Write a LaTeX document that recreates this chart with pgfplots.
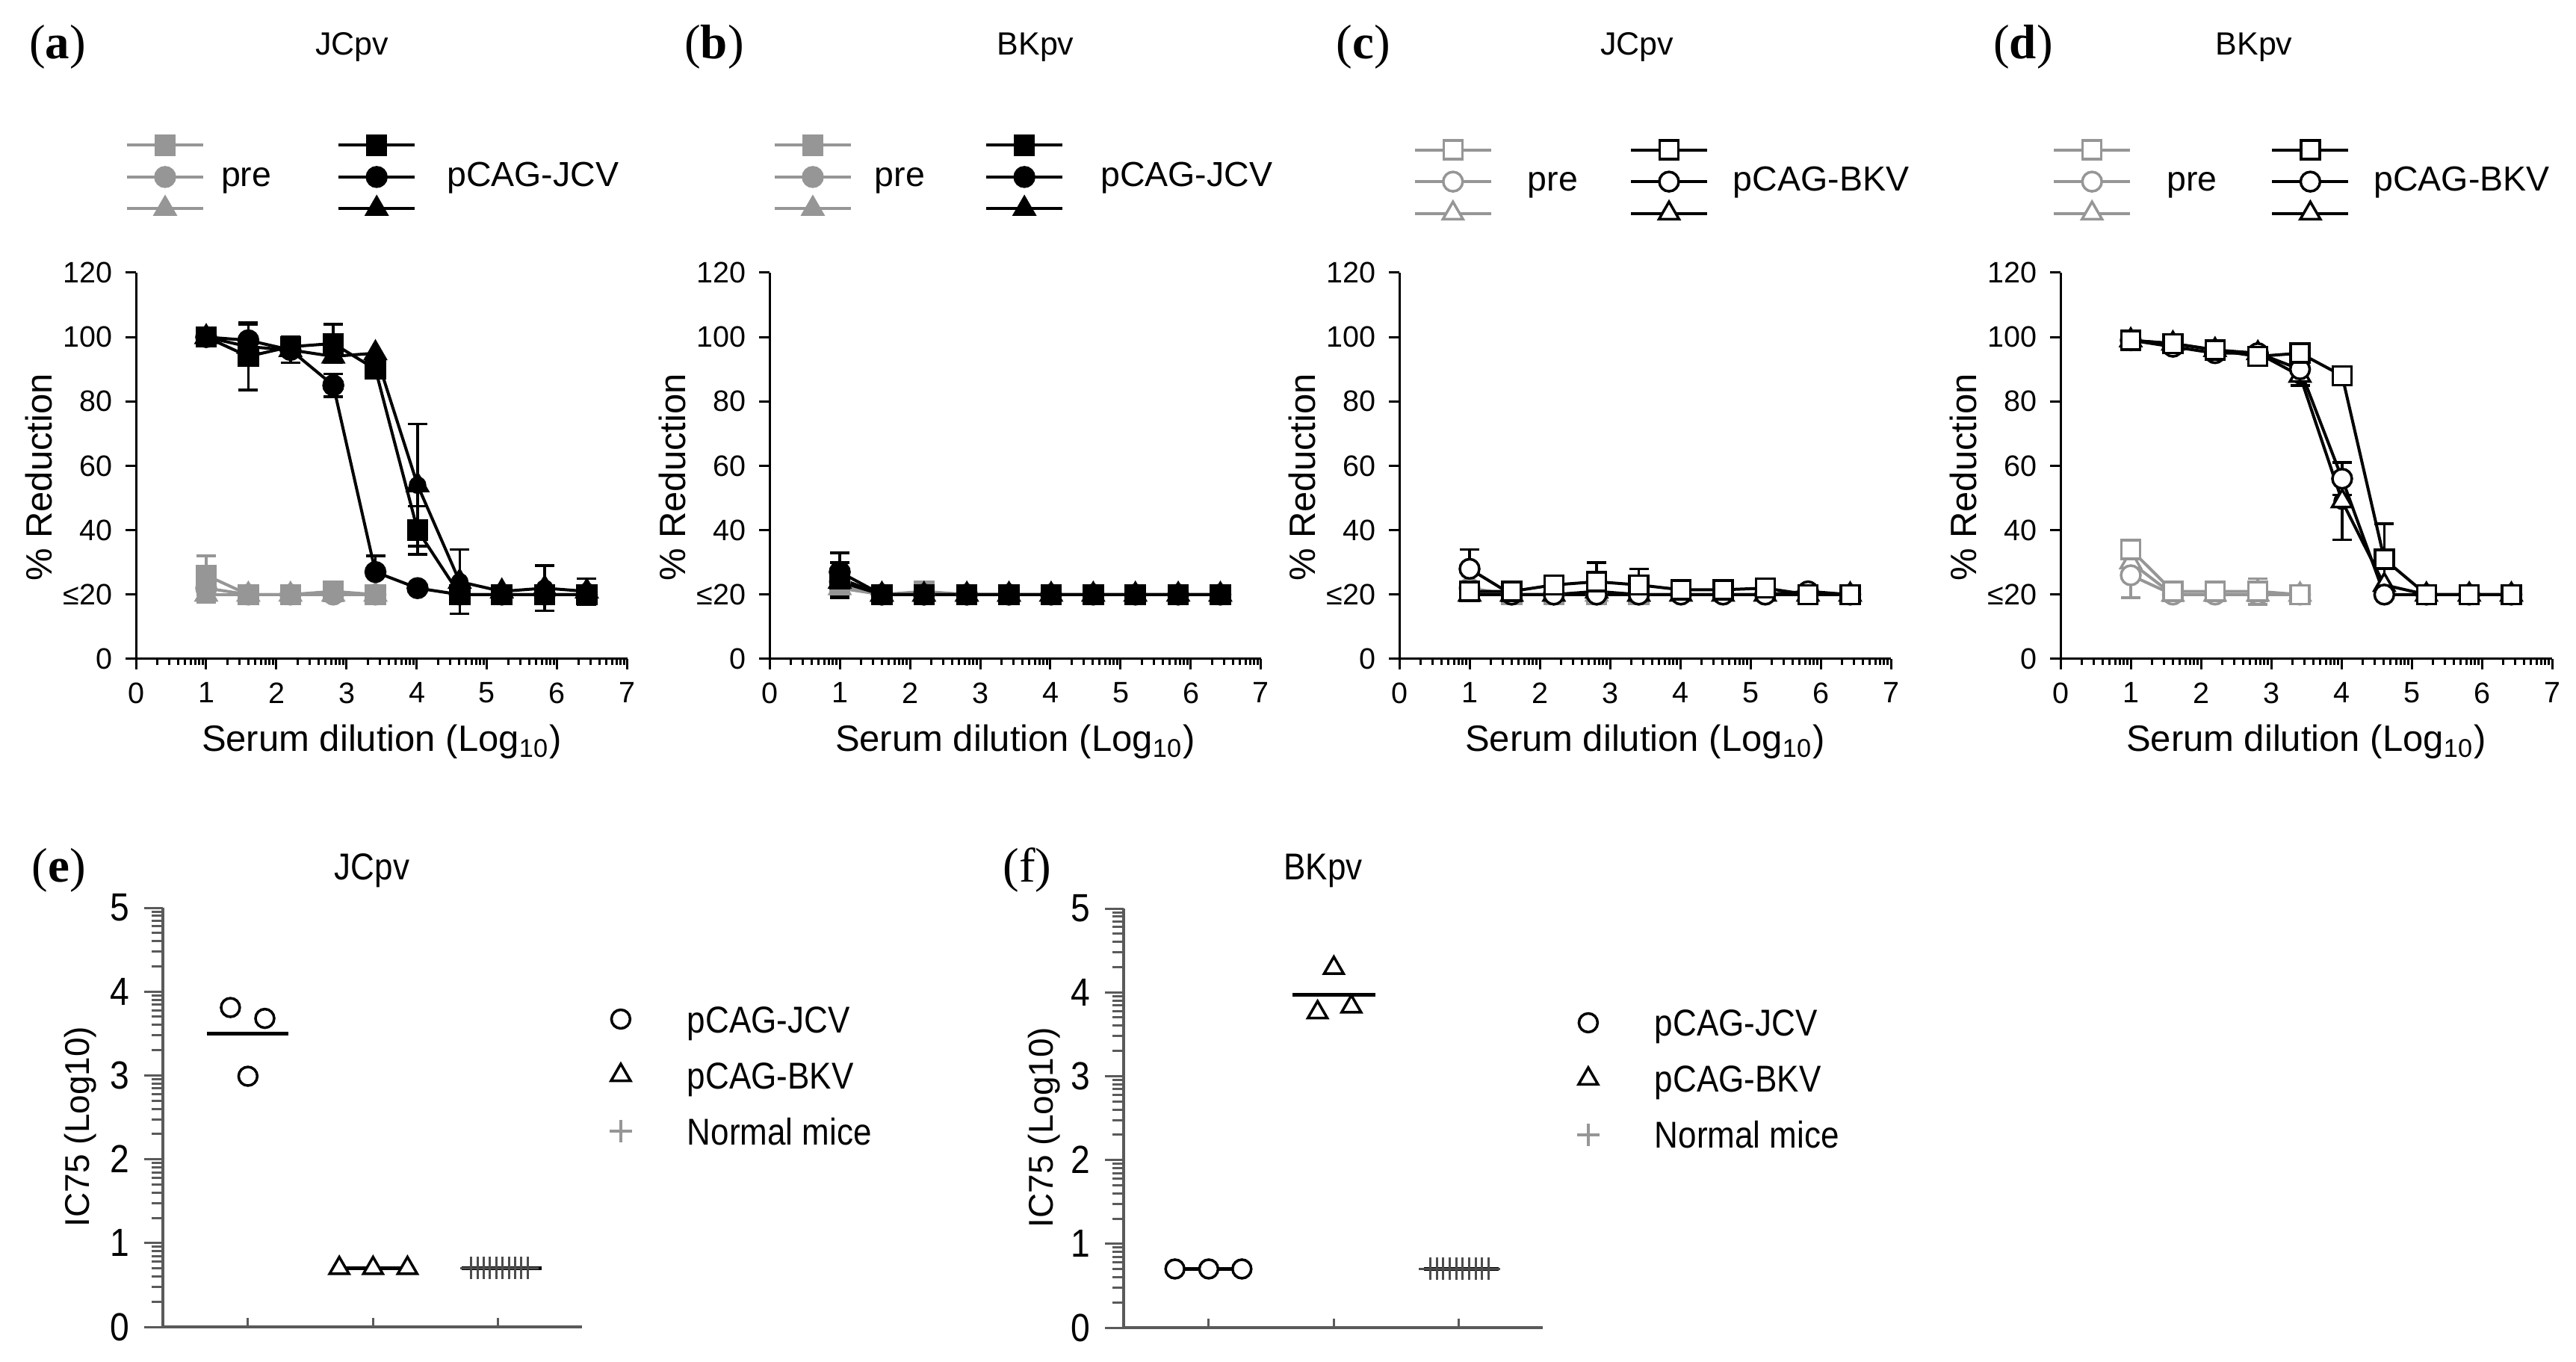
\documentclass[border=0pt]{standalone}
\usepackage{fontspec}
\setmainfont{Liberation Sans}
\newfontfamily\narrowfont[FakeStretch=0.88]{Liberation Sans}
\newfontfamily\seriffont{Liberation Serif}
\usepackage{pgfplots}
\pgfplotsset{compat=1.18}
\definecolor{lg}{RGB}{150,150,150}
\definecolor{ax}{RGB}{90,90,90}
\pgfplotsset{
 top/.style={
   scale only axis, width=131.6pt, height=103.4pt, anchor=south west, clip=false,
   xmin=0, xmax=7, ymin=0, ymax=120,
   axis x line*=bottom, axis y line*=left,
   axis line style={line width=0.6pt, black},
   tick style={line width=0.6pt, black},
   tick align=outside,
   major tick length=2.8pt, minor tick length=1.7pt,
   xtick={0,1,...,7}, ytick={0,20,...,120},
   yticklabels={0,≤20,40,60,80,100,120},
   minor xtick={0.301,0.477,0.602,0.699,0.778,0.845,0.903,0.954,1.301,1.477,1.602,1.699,1.778,1.845,1.903,1.954,2.301,2.477,2.602,2.699,2.778,2.845,2.903,2.954,3.301,3.477,3.602,3.699,3.778,3.845,3.903,3.954,4.301,4.477,4.602,4.699,4.778,4.845,4.903,4.954,5.301,5.477,5.602,5.699,5.778,5.845,5.903,5.954,6.301,6.477,6.602,6.699,6.778,6.845,6.903,6.954},
   /pgf/number format/assume math mode=true,
   tick label style={font=\fontsize{7.9}{8}\selectfont},
   xlabel={Serum dilution (Log\textsubscript{10})},
   ylabel={\% Reduction},
   label style={font=\fontsize{9.8}{10}\selectfont},
   xlabel style={at={(axis description cs:0.5,-0.215)}, anchor=center},
   ylabel style={at={(axis description cs:-0.198,0.47)}, anchor=center},
   legend columns=2, legend cell align=left,
   legend image code/.code={\draw[mark repeat=2,mark phase=2,#1] plot coordinates {(0pt,0pt) (10.2pt,0pt) (20.4pt,0pt)};},
   legend style={draw=none, fill=none, inner sep=0pt, row sep=0pt, anchor=north west,
     font=\fontsize{9.3}{9}\selectfont,
     nodes={inner sep=0pt, text height=6.8pt, text depth=1.7pt}},
 },
 gl/.style={lg, line width=0.8pt, mark size=2.4pt, mark options={solid, line width=0.7pt}},
 bl/.style={black, line width=0.8pt, mark size=2.4pt, mark options={solid, line width=0.7pt}},
 op/.style={mark options={solid, line width=0.7pt, fill=white}},
 sq/.style={mark=square*, mark size=2.5pt},
 ci/.style={mark=*, mark size=2.6pt},
 tr/.style={mark=triangle*, mark size=3.1pt},
 eb/.style={only marks, mark=none, forget plot, line width=0.7pt,
   /pgfplots/error bars/y dir=both, /pgfplots/error bars/y explicit,
   /pgfplots/error bars/error bar style={line width=0.7pt, solid},
   /pgfplots/error bars/error mark options={rotate=90, mark size=2.6pt, line width=0.7pt}},
 ic/.style={
   scale only axis, width=112.2pt, height=112.2pt, anchor=south west, clip=false,
   xmin=0.32, xmax=3.67, ymin=0, ymax=5,
   axis x line*=bottom, axis y line*=left,
   axis line style={line width=0.7pt, ax},
   tick style={line width=0.6pt, ax},
   tick align=outside,
   major tick length=5pt, minor tick length=3pt,
   xtick=\empty, extra x ticks={1,2,3}, extra x tick labels={},
   extra x tick style={tick align=inside, major tick length=2.4pt},
   ytick={0,1,...,5},
   minor ytick={0.301,0.477,0.602,0.699,0.778,0.845,0.903,0.954,1.301,1.477,1.602,1.699,1.778,1.845,1.903,1.954,2.301,2.477,2.602,2.699,2.778,2.845,2.903,2.954,3.301,3.477,3.602,3.699,3.778,3.845,3.903,3.954,4.301,4.477,4.602,4.699,4.778,4.845,4.903,4.954},
   /pgf/number format/assume math mode=true,
   yticklabel style={font=\narrowfont\fontsize{10.5}{10}\selectfont, xshift=-0.5pt},
   ylabel={IC75 (Log10)},
   ylabel style={font=\fontsize{9.2}{9}\selectfont, anchor=center},
   legend cell align=left,
   legend image code/.code={\draw[#1] plot coordinates {(2.6pt,0pt)};},
   legend style={draw=none, fill=none, inner sep=0pt, row sep=0pt, anchor=north west,
     font=\narrowfont\fontsize{10}{10}\selectfont,
     nodes={inner sep=0pt, text height=11.1pt, text depth=3.9pt},
     /tikz/every odd column/.append style={column sep=14.8pt}},
 },
 ms/.style={black, line width=0.7pt, mark size=2.5pt},
 mt/.style={black, line width=0.7pt, mark size=3pt},
}
\begin{document}
\begin{tikzpicture}
\useasboundingbox (0,0) rectangle (689.6pt,364.4pt);

% ---------- titles ----------
\node[font=\seriffont\fontsize{13}{13}\selectfont] at (15.4pt,351.8pt) {(\textbf{a})};
\node[font=\fontsize{8.6}{9}\selectfont] at (94.2pt,351.8pt) {JCpv};
\node[font=\seriffont\fontsize{13}{13}\selectfont] at (191.2pt,351.8pt) {(\textbf{b})};
\node[font=\fontsize{8.6}{9}\selectfont] at (277.2pt,351.8pt) {BKpv};
\node[font=\seriffont\fontsize{13}{13}\selectfont] at (365pt,351.8pt) {(\textbf{c})};
\node[font=\fontsize{8.6}{9}\selectfont] at (438.2pt,351.8pt) {JCpv};
\node[font=\seriffont\fontsize{13}{13}\selectfont] at (541.6pt,351.8pt) {(\textbf{d})};
\node[font=\fontsize{8.6}{9}\selectfont] at (603.4pt,351.8pt) {BKpv};
\node[font=\seriffont\fontsize{13}{13}\selectfont] at (15.8pt,131.4pt) {(\textbf{e})};
\node[font=\narrowfont\fontsize{10}{10}\selectfont] at (99.6pt,131.4pt) {JCpv};
\node[font=\seriffont\fontsize{13}{13}\selectfont] at (275pt,131.4pt) {(f)};
\node[font=\narrowfont\fontsize{10}{10}\selectfont] at (354.2pt,131.4pt) {BKpv};

% ---------- (a) ----------
\begin{axis}[top, at={(36.4pt,188pt)},
  legend style={at={(axis description cs:-0.0228,1.373)},
   /tikz/every odd column/.append style={column sep=4.4pt},
   /tikz/every even column/.append style={column sep=17.6pt}}]
\addlegendimage{gl, sq}\addlegendentry{\mbox{}}
\addlegendimage{bl, sq}\addlegendentry{\mbox{}}
\addlegendimage{gl, ci}\addlegendentry{pre}
\addlegendimage{bl, ci}\addlegendentry{\hspace*{3.8pt}pCAG-JCV}
\addlegendimage{gl, tr}\addlegendentry{\mbox{}}
\addlegendimage{bl, tr}\addlegendentry{\mbox{}}
\addplot[lg, eb] coordinates {(1,26) +- (0,6) (1,22) +- (0,4) (1,20) +- (0,2.5)};
\addplot[gl, tr, forget plot] coordinates {(1,20) (1.6,20) (2.2,20) (2.81,20) (3.41,20)};
\addplot[gl, ci, forget plot] coordinates {(1,22) (1.6,20) (2.2,20) (2.81,20) (3.41,20)};
\addplot[gl, sq, forget plot] coordinates {(1,26) (1.6,20) (2.2,20) (2.81,21) (3.41,20)};
\addplot[black, eb] coordinates {(1.6,94) +- (0,10.5) (1.6,99) +- (0,5) (2.2,96) +- (0,4) (2.81,98) +- (0,6) (2.81,85) +- (0,3.5) (3.41,27) +- (0,5) (4.01,40) +- (0,7.5) (4.01,54) +- (0,19) (4.61,24) +- (0,10) (5.82,22) +- (0,7) (6.42,21) +- (0,4)};
\addplot[bl, tr, forget plot] coordinates {(1,100) (1.6,97) (2.2,96) (2.81,94) (3.41,95) (4.01,54) (4.61,24) (5.21,21) (5.82,22) (6.42,21)};
\addplot[bl, ci, forget plot] coordinates {(1,100) (1.6,99) (2.2,96) (2.81,85) (3.41,27) (4.01,22) (4.61,20) (5.21,20) (5.82,20) (6.42,20)};
\addplot[bl, sq, forget plot] coordinates {(1,100) (1.6,94) (2.2,97) (2.81,98) (3.41,90) (4.01,40) (4.61,20) (5.21,20) (5.82,20) (6.42,20)};
\end{axis}

% ---------- (b) ----------
\begin{axis}[top, at={(206pt,188pt)},
  legend style={at={(axis description cs:0.006,1.373)},
   /tikz/every odd column/.append style={column sep=6pt},
   /tikz/every even column/.append style={column sep=16pt}}]
\addlegendimage{gl, sq}\addlegendentry{\mbox{}}
\addlegendimage{bl, sq}\addlegendentry{\mbox{}}
\addlegendimage{gl, ci}\addlegendentry{pre}
\addlegendimage{bl, ci}\addlegendentry{\hspace*{3.8pt}pCAG-JCV}
\addlegendimage{gl, tr}\addlegendentry{\mbox{}}
\addlegendimage{bl, tr}\addlegendentry{\mbox{}}
\addplot[lg, eb] coordinates {(1,23) +- (0,4)};
\addplot[gl, tr, forget plot] coordinates {(1,22) (1.6,20) (2.2,20) (2.81,20) (3.41,20)};
\addplot[gl, ci, forget plot] coordinates {(1,24) (1.6,20) (2.2,20) (2.81,20) (3.41,20)};
\addplot[gl, sq, forget plot] coordinates {(1,23) (1.6,20) (2.2,21) (2.81,20) (3.41,20)};
\addplot[black, eb] coordinates {(1,26) +- (0,7) (1,25) +- (0,5)};
\addplot[bl, tr, forget plot] coordinates {(1,24) (1.6,20) (2.2,20) (2.81,20) (3.41,20) (4.01,20) (4.61,20) (5.21,20) (5.82,20) (6.42,20)};
\addplot[bl, ci, forget plot] coordinates {(1,27) (1.6,20) (2.2,20) (2.81,20) (3.41,20) (4.01,20) (4.61,20) (5.21,20) (5.82,20) (6.42,20)};
\addplot[bl, sq, forget plot] coordinates {(1,25) (1.6,20) (2.2,20) (2.81,20) (3.41,20) (4.01,20) (4.61,20) (5.21,20) (5.82,20) (6.42,20)};
\end{axis}

% ---------- (c) ----------
\begin{axis}[top, at={(374.6pt,188pt)},
  legend style={at={(axis description cs:0.027,1.361)},
   /tikz/every odd column/.append style={column sep=6.6pt},
   /tikz/every even column/.append style={column sep=13.8pt}}]
\addlegendimage{gl, op, sq}\addlegendentry{\mbox{}}
\addlegendimage{bl, op, sq}\addlegendentry{\mbox{}}
\addlegendimage{gl, op, ci}\addlegendentry{\hspace*{2.8pt}pre}
\addlegendimage{bl, op, ci}\addlegendentry{pCAG-BKV}
\addlegendimage{gl, op, tr}\addlegendentry{\mbox{}}
\addlegendimage{bl, op, tr}\addlegendentry{\mbox{}}
\addplot[gl, op, tr, forget plot] coordinates {(1,20) (1.6,20) (2.2,20) (2.81,20) (3.41,20)};
\addplot[gl, op, ci, forget plot] coordinates {(1,22) (1.6,20) (2.2,20) (2.81,20) (3.41,20)};
\addplot[gl, op, sq, forget plot] coordinates {(1,21) (1.6,20) (2.2,20) (2.81,20) (3.41,20)};
\addplot[black, eb] coordinates {(1,28) +- (0,6) (2.81,24) +- (0,6) (3.41,23) +- (0,5)};
\addplot[bl, op, tr, forget plot] coordinates {(1,20) (1.6,20) (2.2,20) (2.81,21) (3.41,20) (4.01,20) (4.61,20) (5.21,20) (5.82,20) (6.42,20)};
\addplot[bl, op, ci, forget plot] coordinates {(1,28) (1.6,20) (2.2,20) (2.81,20) (3.41,20) (4.01,20) (4.61,20) (5.21,20) (5.82,21) (6.42,20)};
\addplot[bl, op, sq, forget plot] coordinates {(1,21) (1.6,21) (2.2,23) (2.81,24) (3.41,23) (4.01,21.5) (4.61,21.5) (5.21,22) (5.82,20) (6.42,20)};
\end{axis}

% ---------- (d) ----------
\begin{axis}[top, at={(551.6pt,188pt)},
  legend style={at={(axis description cs:-0.018,1.361)},
   /tikz/every odd column/.append style={column sep=6.4pt},
   /tikz/every even column/.append style={column sep=14.4pt}}]
\addlegendimage{gl, op, sq}\addlegendentry{\mbox{}}
\addlegendimage{bl, op, sq}\addlegendentry{\mbox{}}
\addlegendimage{gl, op, ci}\addlegendentry{\hspace*{3pt}pre}
\addlegendimage{bl, op, ci}\addlegendentry{pCAG-BKV}
\addlegendimage{gl, op, tr}\addlegendentry{\mbox{}}
\addlegendimage{bl, op, tr}\addlegendentry{\mbox{}}
\addplot[lg, eb] coordinates {(1,34) +- (0,3) (1,26) +- (0,7) (2.81,21) +- (0,4)};
\addplot[gl, op, tr, forget plot] coordinates {(1,30) (1.6,20) (2.2,20) (2.81,20) (3.41,20)};
\addplot[gl, op, ci, forget plot] coordinates {(1,26) (1.6,20) (2.2,20) (2.81,20) (3.41,20)};
\addplot[gl, op, sq, forget plot] coordinates {(1,34) (1.6,21) (2.2,21) (2.81,21) (3.41,20)};
\addplot[black, eb] coordinates {(3.41,88) +- (0,3) (4.01,56) +- (0,5) (4.01,49) +- (0,12) (4.61,31) +- (0,11)};
\addplot[bl, op, tr, forget plot] coordinates {(1,99) (1.6,98) (2.2,96) (2.81,95) (3.41,88) (4.01,49) (4.61,23) (5.21,20) (5.82,20) (6.42,20)};
\addplot[bl, op, ci, forget plot] coordinates {(1,99) (1.6,97) (2.2,95) (2.81,95) (3.41,90) (4.01,56) (4.61,20) (5.21,20) (5.82,20) (6.42,20)};
\addplot[bl, op, sq, forget plot] coordinates {(1,99) (1.6,98) (2.2,96) (2.81,94) (3.41,95) (4.01,88) (4.61,31) (5.21,20) (5.82,20) (6.42,20)};
\end{axis}

% ---------- (e) ----------
\begin{axis}[ic, at={(43.6pt,9.2pt)},
  ylabel style={at={(axis description cs:-0.196,0.478)}},
  legend style={at={(axis description cs:1.064,0.803)}}]
\addlegendimage{ms, only marks, mark=o}\addlegendentry{pCAG-JCV}
\addlegendimage{mt, only marks, mark=triangle}\addlegendentry{pCAG-BKV}
\addlegendimage{lg, only marks, mark=+, mark size=3pt, line width=0.7pt}\addlegendentry{Normal mice}
\addplot[black, line width=1.1pt, forget plot] coordinates {(0.675,3.5) (1.325,3.5)};
\addplot[ms, only marks, mark=o, forget plot] coordinates {(0.86,3.81) (1.135,3.68) (1.0,2.99)};
\addplot[black, line width=1.1pt, forget plot] coordinates {(1.71,0.7) (2.33,0.7)};
\addplot[mt, only marks, mark=triangle*, mark options={fill=white}, forget plot] coordinates {(1.73,0.7) (2.0,0.7) (2.275,0.7)};
\addplot[black!70, only marks, mark=+, mark size=3pt, line width=0.6pt, forget plot] coordinates {(2.785,0.7) (2.835,0.7) (2.885,0.7) (2.935,0.7) (2.985,0.7) (3.035,0.7) (3.085,0.7) (3.135,0.7) (3.185,0.7) (3.235,0.7)};
\addplot[black, line width=1.1pt, forget plot] coordinates {(2.71,0.7) (3.35,0.7)};
\end{axis}

% ---------- (f) ----------
\begin{axis}[ic, at={(300.8pt,9pt)},
  ylabel style={at={(axis description cs:-0.189,0.478)}},
  legend style={at={(axis description cs:1.08,0.796)}}]
\addlegendimage{ms, only marks, mark=o}\addlegendentry{pCAG-JCV}
\addlegendimage{mt, only marks, mark=triangle}\addlegendentry{pCAG-BKV}
\addlegendimage{lg, only marks, mark=+, mark size=3pt, line width=0.7pt}\addlegendentry{Normal mice}
\addplot[black, line width=1.1pt, forget plot] coordinates {(0.66,0.7) (1.32,0.7)};
\addplot[ms, only marks, mark=*, mark options={fill=white}, forget plot] coordinates {(0.73,0.7) (1.0,0.7) (1.265,0.7)};
\addplot[black, line width=1.1pt, forget plot] coordinates {(1.67,3.97) (2.33,3.97)};
\addplot[mt, only marks, mark=triangle, forget plot] coordinates {(2.0,4.29) (1.87,3.76) (2.14,3.83)};
\addplot[black!70, only marks, mark=+, mark size=3pt, line width=0.6pt, forget plot] coordinates {(2.77,0.7) (2.822,0.7) (2.874,0.7) (2.926,0.7) (2.978,0.7) (3.03,0.7) (3.082,0.7) (3.134,0.7) (3.186,0.7) (3.238,0.7)};
\addplot[black, line width=1.1pt, forget plot] coordinates {(2.72,0.7) (3.32,0.7)};
\end{axis}
\end{tikzpicture}
\end{document}
